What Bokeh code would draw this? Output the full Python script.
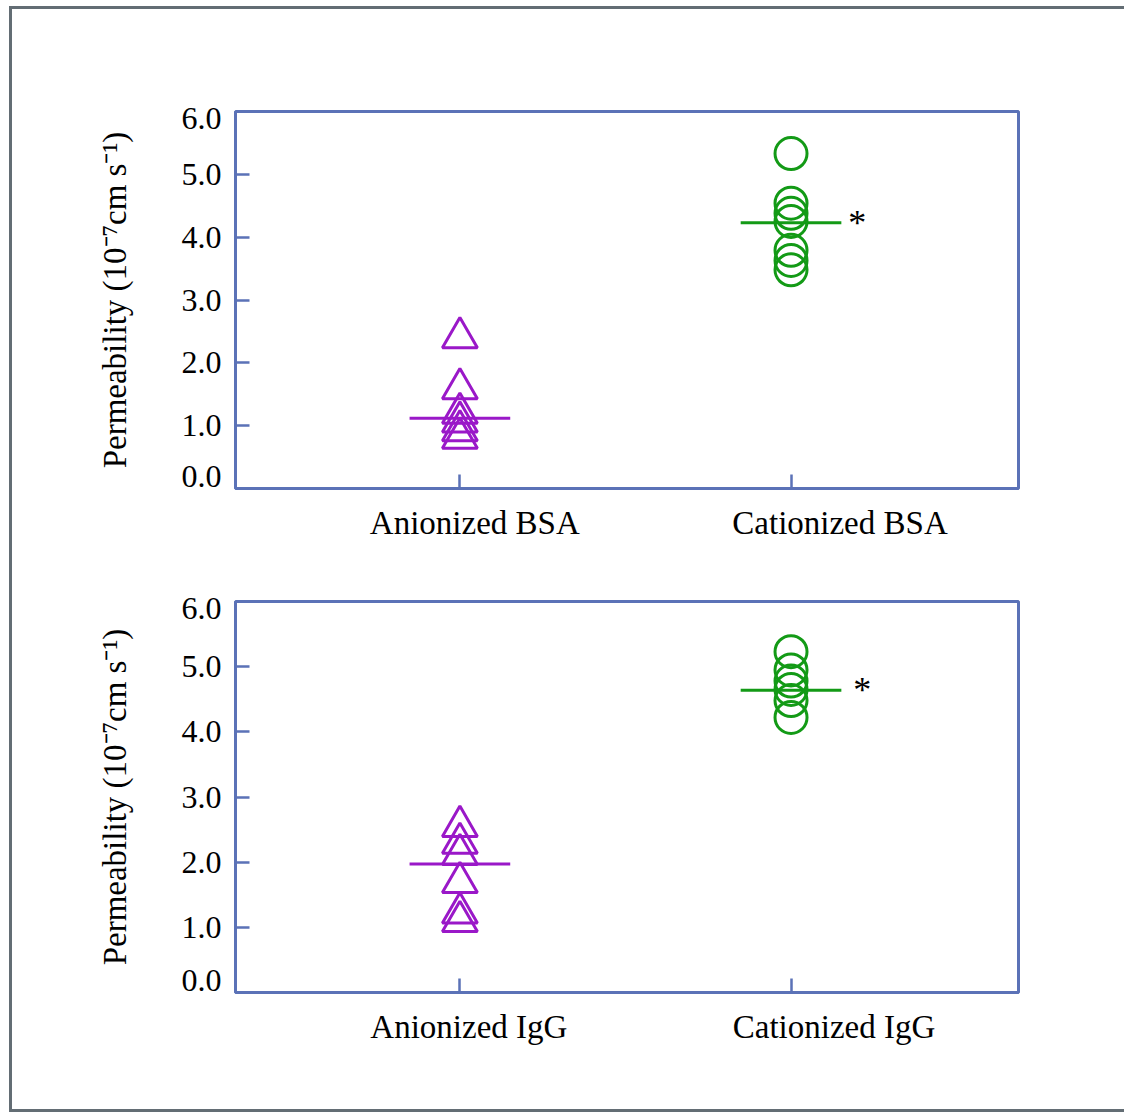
from bokeh.plotting import figure
from bokeh.layouts import column
from bokeh.models import FixedTicker, Range1d
from bokeh.embed import file_html
from bokeh.resources import INLINE
from bokeh.core.properties import value

# ---- data ----
categories_top = ["Anionized BSA", "Cationized BSA"]
categories_bottom = ["Anionized IgG", "Cationized IgG"]
cat_pos = [1, 2]
label_pos_top = [1.045, 2.148]
label_pos_bottom = [1.027, 2.13]

anion_bsa = [2.40, 1.59, 1.20, 1.06, 0.92, 0.80]
cation_bsa = [5.33, 4.54, 4.38, 4.25, 3.79, 3.63, 3.48]
median_bsa = [1.12, 4.23]

anion_igg = [2.55, 2.29, 2.12, 1.69, 1.22, 1.09]
cation_igg = [5.23, 4.95, 4.78, 4.65, 4.48, 4.22]
median_igg = [1.97, 4.64]

star_x_top = [2.2]
star_x_bottom = [2.215]

y_tick_marks = [1, 2, 3, 4, 5]
y_label_pos = [0.19, 1, 2, 3, 4, 5, 5.89]
y_tick_labels = ["0.0", "1.0", "2.0", "3.0", "4.0", "5.0", "6.0"]
y_title = "Permeability (10\u207b\u2077cm s\u207b\u00b9)"

FRAME = "#5b72b7"
PURPLE = "#9a18c8"
GREEN = "#139a16"
BORDER = "#636d74"
FONT = "Liberation Serif"


def make_panel(anion, cation, medians, cats, label_pos, star_x,
               width, height, mb_left, mb_right, mb_top, mb_bottom):
    p = figure(width=width, height=height, output_backend="svg",
               toolbar_location=None,
               x_range=Range1d(0.3223, 2.687), y_range=Range1d(0, 6),
               min_border_left=mb_left, min_border_right=mb_right,
               min_border_top=mb_top, min_border_bottom=mb_bottom)
    p.xgrid.visible = False
    p.ygrid.visible = False
    p.outline_line_color = FRAME
    p.outline_line_width = 3
    p.background_fill_color = "white"
    p.border_fill_color = "white"

    # y axis
    ya = p.yaxis[0]
    ya.ticker = FixedTicker(ticks=y_label_pos, minor_ticks=y_tick_marks)
    ya.major_label_overrides = {k: v for k, v in zip(y_label_pos, y_tick_labels)}
    ya.major_tick_in = 0
    ya.major_tick_out = 0
    ya.minor_tick_in = 14
    ya.minor_tick_out = 0
    ya.minor_tick_line_color = FRAME
    ya.minor_tick_line_width = 2.5
    ya.axis_line_color = FRAME
    ya.axis_line_width = 3
    ya.major_label_standoff = 14
    ya.major_label_text_font = FONT
    ya.major_label_text_font_size = "32px"
    ya.major_label_text_color = "black"
    ya.axis_label = y_title
    ya.axis_label_text_font = FONT
    ya.axis_label_text_font_size = "33px"
    ya.axis_label_text_font_style = "normal"
    ya.axis_label_text_color = "black"
    ya.axis_label_standoff = 46

    # x axis
    xa = p.xaxis[0]
    xa.ticker = FixedTicker(ticks=label_pos, minor_ticks=cat_pos)
    xa.major_label_overrides = {k: v for k, v in zip(label_pos, cats)}
    xa.major_tick_in = 0
    xa.major_tick_out = 0
    xa.minor_tick_in = 14
    xa.minor_tick_out = 0
    xa.minor_tick_line_color = FRAME
    xa.minor_tick_line_width = 2.5
    xa.axis_line_color = FRAME
    xa.axis_line_width = 3
    xa.major_label_standoff = 16
    xa.major_label_text_font = FONT
    xa.major_label_text_font_size = "33px"
    xa.major_label_text_color = "black"

    half = 0.152
    p.segment(x0=[c - half for c in cat_pos], y0=medians,
              x1=[c + half for c in cat_pos], y1=medians,
              line_color=[PURPLE, GREEN], line_width=3)

    p.scatter(x=[cat_pos[0]] * len(anion), y=anion, marker="triangle",
              size=35, fill_color=None, line_color=PURPLE, line_width=3)
    p.scatter(x=[cat_pos[1]] * len(cation), y=cation, marker="circle",
              size=32, fill_color=None, line_color=GREEN, line_width=3)

    p.text(x=star_x, y=[medians[1]], text=["*"], text_font=value(FONT),
           text_font_size="36px", text_baseline="alphabetic",
           text_align="center", text_color="black")
    return p


p1 = make_panel(anion_bsa, cation_bsa, median_bsa, categories_top,
                label_pos_top, star_x_top,
                width=1112, height=534, mb_left=223, mb_right=104,
                mb_top=102, mb_bottom=54)
p2 = make_panel(anion_igg, cation_igg, median_igg, categories_bottom,
                label_pos_bottom, star_x_bottom,
                width=1112, height=566, mb_left=220, mb_right=106,
                mb_top=58, mb_bottom=117)

layout = column(p1, p2, spacing=0,
                styles={"border-top": "3px solid " + BORDER,
                        "border-left": "3px solid " + BORDER,
                        "border-bottom": "3px solid " + BORDER,
                        "margin-left": "9px",
                        "margin-top": "6px",
                        "background-color": "white"})

open("out.html", "w").write(file_html(layout, INLINE))
